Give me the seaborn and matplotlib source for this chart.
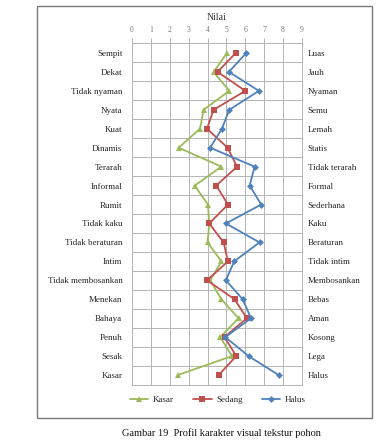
import numpy as np
import pandas as pd
import matplotlib
matplotlib.use("Agg")
import matplotlib.pyplot as plt
from matplotlib.patches import Rectangle
import seaborn as sns

# Data
left_labels = ["Sempit", "Dekat", "Tidak nyaman", "Nyata", "Kuat", "Dinamis",
               "Terarah", "Informal", "Rumit", "Tidak kaku", "Tidak beraturan",
               "Intim", "Tidak membosankan", "Menekan", "Bahaya", "Penuh",
               "Sesak", "Kasar"]
right_labels = ["Luas", "Jauh", "Nyaman", "Semu", "Lemah", "Statis",
                "Tidak terarah", "Formal", "Sederhana", "Kaku", "Beraturan",
                "Tidak intim", "Membosankan", "Bebas", "Aman", "Kosong",
                "Lega", "Halus"]
kasar = [5.03, 4.32, 5.15, 3.79, 3.60, 2.47, 4.73, 3.32, 4.02, 4.09, 4.00,
         4.73, 4.14, 4.73, 5.64, 4.67, 5.29, 2.43]
sedang = [5.49, 4.53, 6.00, 4.32, 3.97, 5.06, 5.56, 4.46, 5.08, 4.09, 4.85,
          5.08, 3.97, 5.43, 6.08, 4.90, 5.52, 4.59]
halus = [6.05, 5.13, 6.72, 5.15, 4.76, 4.14, 6.49, 6.23, 6.84, 4.97, 6.75,
         5.41, 4.97, 5.86, 6.30, 4.94, 6.17, 7.76]
series_names = ["Kasar", "Sedang", "Halus"]

rows = np.arange(len(left_labels))
df = pd.DataFrame({
    "nilai": kasar + sedang + halus,
    "row": np.tile(rows, 3),
    "seri": np.repeat(series_names, len(rows)),
})

sns.set_style("white")
plt.rcParams["font.family"] = ["Liberation Serif", "DejaVu Serif"]

fig = plt.figure(figsize=(3.76, 4.44), dpi=100)
ax = fig.add_axes([132 / 376, 1 - 384.5 / 444, 170 / 376, 341 / 444])

palette = {"Kasar": "#9bbb59", "Sedang": "#c0504d", "Halus": "#4f81bd"}
markers = {"Kasar": "^", "Sedang": "s", "Halus": "D"}
sizes = {"Kasar": 4.5, "Sedang": 5, "Halus": 3.5}

for name in series_names:
    sub = df[df["seri"] == name]
    sns.lineplot(data=sub, x="nilai", y="row", sort=False, estimator=None,
                 color=palette[name], marker=markers[name],
                 markersize=sizes[name], markeredgewidth=0, linewidth=1.3,
                 label=name, ax=ax, legend=False)

ax.set_xlim(0, 9)
ax.set_ylim(len(rows) - 0.5, -0.5)
ax.set_ylabel("")

grid_c = "#b4b4b4"
ax.set_xticks(np.arange(0, 10))
ax.xaxis.tick_top()
ax.xaxis.set_label_position("top")
ax.set_xlabel("Nilai", fontsize=7, color="#333333", labelpad=5)
ax.tick_params(axis="x", which="major", length=3.5, width=0.7, color=grid_c,
               labelsize=5.5, labelcolor="#777777", pad=3, direction="out")

ax.set_yticks(rows)
ax.set_yticklabels(left_labels, fontsize=6.5)
ax.set_yticks(np.arange(-0.5, len(rows)), minor=True)
ax.tick_params(axis="y", which="major", length=0, pad=7)
ax.tick_params(axis="y", which="minor", length=3, width=0.7, color=grid_c,
               direction="out")

ax.grid(True, axis="x", which="major", color=grid_c, linewidth=0.7)
ax.grid(True, axis="y", which="minor", color=grid_c, linewidth=0.7)
ax.grid(False, axis="y", which="major")
for s in ax.spines.values():
    s.set_color(grid_c)
    s.set_linewidth(0.7)

sec = ax.secondary_yaxis("right")
sec.set_yticks(rows)
sec.set_yticklabels(right_labels, fontsize=6.5)
sec.tick_params(axis="y", length=0, pad=4)
sec.spines["right"].set_visible(False)

handles, labels = ax.get_legend_handles_labels()
fig.legend(handles, labels, loc="center", bbox_to_anchor=(218 / 376, 1 - 400 / 444),
           ncol=3, frameon=False, fontsize=6.5, handlelength=2.0,
           columnspacing=2.2, handletextpad=0.5)

fig.patches.append(Rectangle((37 / 376, 1 - 418 / 444), 335 / 376, 412 / 444,
                             transform=fig.transFigure, fill=False,
                             edgecolor="#7a7a7a", linewidth=1))

fig.text(221 / 376, 1 - 433 / 444, "Gambar 19  Profil karakter visual tekstur pohon",
         ha="center", va="center", fontsize=7.5, color="#111111")

fig.savefig("out.png", dpi=100)
